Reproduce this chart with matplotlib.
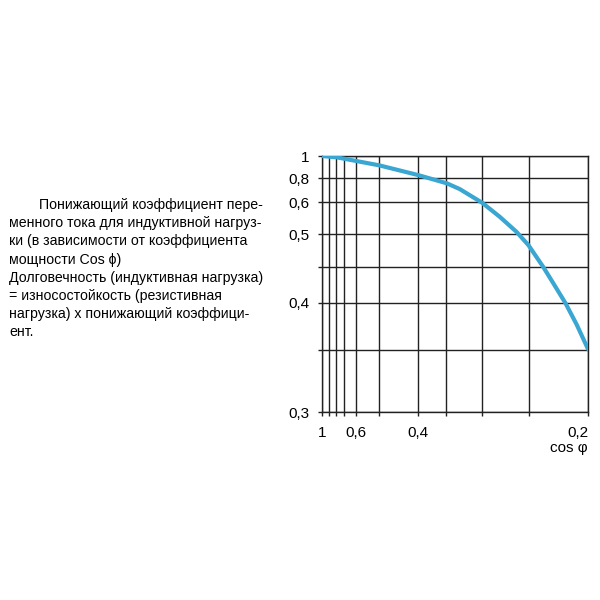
import numpy as np
import matplotlib
matplotlib.use('Agg')
import matplotlib.pyplot as plt

plt.rcParams['font.family'] = ['Liberation Sans', 'DejaVu Sans']

#------------------------------------------------------------------------------
# Data
#------------------------------------------------------------------------------
# grid of the chart (the axes are neither linear nor log, so the scale is
# calibrated from the grid lines of the original)
cos_grid = [1.0, 0.9, 0.8, 0.7, 0.6, 0.5, 0.4, 0.35, 0.3, 0.25, 0.2]
cos_pos = [0, 7, 13.5, 22, 34, 56.5, 96, 124, 160, 206.5, 266]
k_grid = [0.3, 0.35, 0.4, 0.45, 0.5, 0.6, 0.8, 1.0]
k_pos = [0, 62, 109, 145, 178, 210, 234, 256]

x_ticks = [1.0, 0.6, 0.4, 0.2]
x_ticklabels = ['1', '0,6', '0,4', '0,2']
y_ticks = [1.0, 0.8, 0.6, 0.5, 0.4, 0.3]
y_ticklabels = ['1', '0,8', '0,6', '0,5', '0,4', '0,3']

# reduction factor curve
cos_phi = [1.0, 0.786, 0.6, 0.498, 0.4, 0.349, 0.331, 0.3, 0.281, 0.263,
           0.25, 0.2376, 0.229, 0.219, 0.2095, 0.2]
factor = [1.0, 0.988, 0.955, 0.915, 0.827, 0.756, 0.708, 0.598, 0.554, 0.507,
          0.483, 0.45, 0.427, 0.4, 0.377, 0.351]

text_lines = [
    'Понижающий коэффициент пере-',
    'менного тока для индуктивной нагруз-',
    'ки (в зависимости от коэффициента',
    'мощности Cos ϕ)',
    'Долговечность (индуктивная нагрузка)',
    '= износостойкость (резистивная',
    'нагрузка) х понижающий коэффици-',
    'ент.',
]

#------------------------------------------------------------------------------
# Scales (increasing in data, x axis inverted afterwards)
#------------------------------------------------------------------------------
cg = np.array(cos_grid)[::-1]
cp = -np.array(cos_pos, dtype=float)[::-1]
kg = np.array(k_grid)
kp = np.array(k_pos, dtype=float)

def x_fwd(c):
    return np.interp(np.asarray(c, dtype=float), cg, cp)

def x_inv(p):
    return np.interp(np.asarray(p, dtype=float), cp, cg)

def y_fwd(v):
    return np.interp(np.asarray(v, dtype=float), kg, kp)

def y_inv(p):
    return np.interp(np.asarray(p, dtype=float), kp, kg)

#------------------------------------------------------------------------------
# Plot
#------------------------------------------------------------------------------
fig = plt.figure(figsize=(6, 6), dpi=100)
ax = fig.add_axes([322/600, 1 - 412/600, 266/600, 256/600])

ax.set_xscale('function', functions=(x_fwd, x_inv))
ax.set_yscale('function', functions=(y_fwd, y_inv))
ax.set_xlim(0.2, 1.0)
ax.invert_xaxis()
ax.set_ylim(0.3, 1.0)

ax.plot(cos_phi, factor, color='#3aa6d2', linewidth=3, solid_capstyle='round',
        solid_joinstyle='round', zorder=3)

ax.set_xticks(cos_grid, minor=True)
ax.set_yticks(k_grid, minor=True)
ax.set_xticks(x_ticks)
ax.set_xticklabels(x_ticklabels)
ax.set_yticks(y_ticks)
ax.set_yticklabels(y_ticklabels)
ax.grid(True, which='both', color='#222222', linewidth=1.0)
ax.tick_params(which='both', direction='out', length=3, width=1.0, color='#222222',
               labelsize=11, pad=6)
ax.tick_params(axis='x', pad=7)
for s in ax.spines.values():
    s.set_color('#222222')
    s.set_linewidth(1.0)
ax.get_xticklabels()[-1].set_horizontalalignment('right')

fig.text(588/600, 1 - 448/600, 'cos φ', ha='right', va='center', fontsize=11)

for i, line in enumerate(text_lines):
    x = 39 if i == 0 else 9
    fig.text(x/600, 1 - (209 + 18.2*i)/600, line, ha='left', va='baseline', fontsize=10.2)

fig.savefig('out.png', dpi=100, facecolor='white')
